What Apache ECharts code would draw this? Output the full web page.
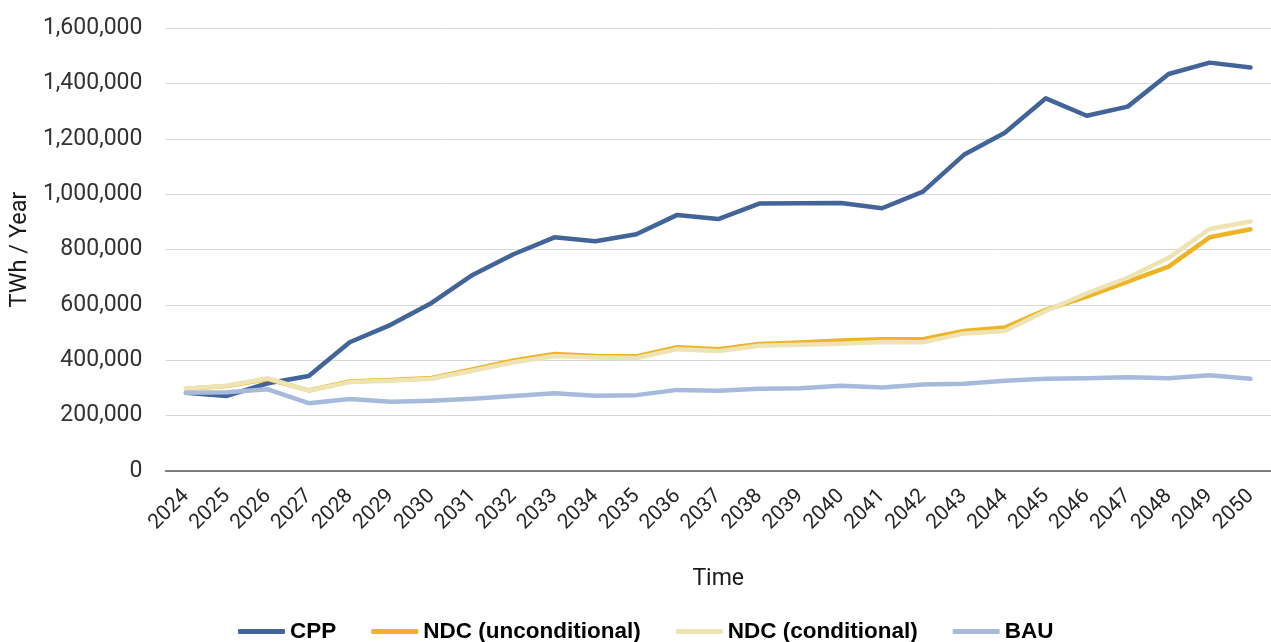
<!DOCTYPE html>
<html>
<head>
<meta charset="utf-8">
<script src="https://cdn.jsdelivr.net/npm/echarts@6/dist/echarts.min.js"></script>
<style>
  html, body { margin: 0; padding: 0; background: #fff; }
  #chart { width: 1271px; height: 642px; }
</style>
</head>
<body>
<div id="chart"></div>
<script>
// Annual electricity demand by scenario, TWh / year
const years = ['2024','2025','2026','2027','2028','2029','2030','2031','2032','2033','2034','2035','2036','2037',
  '2038','2039','2040','2041','2042','2043','2044','2045','2046','2047','2048','2049','2050'];

const cpp = [283000, 271000, 317000, 343000, 465000, 528000, 607000, 708000, 783000, 844000, 830000, 855000, 925000, 910000,
  966000, 967000, 968000, 949000, 1009000, 1142000, 1222000, 1346000, 1283000, 1316000, 1434000, 1475000, 1457000];

const ndcUnconditional = [297000, 307000, 332000, 291000, 323000, 329000, 336000, 367000, 399000, 423000, 415000, 414000, 447000, 440000,
  459000, 464000, 471000, 476000, 476000, 506000, 518000, 582000, 630000, 684000, 738000, 844000, 873000];

const ndcConditional = [297000, 308000, 335000, 290000, 321000, 326000, 333000, 362000, 393000, 415000, 410000, 408000, 440000, 433000,
  452000, 456000, 460000, 466000, 465000, 497000, 506000, 578000, 642000, 698000, 770000, 874000, 901000];

const bau = [283000, 284000, 295000, 245000, 260000, 250000, 254000, 261000, 271000, 281000, 272000, 274000, 293000, 290000,
  297000, 299000, 308000, 302000, 312000, 315000, 326000, 333000, 335000, 339000, 335000, 346000, 333000];

const yTicks = { min: 0, max: 1600000, interval: 200000 };

const chart = echarts.init(document.getElementById('chart'), null, { renderer: 'canvas' });

function line(name, data, color, width) {
  return {
    name: name,
    type: 'line',
    data: data,
    symbol: 'none',
    showSymbol: false,
    lineStyle: { color: color, width: width, cap: 'round', join: 'round' },
    itemStyle: { color: color },
    emphasis: { disabled: true }
  };
}

chart.setOption({
  animation: false,
  backgroundColor: '#ffffff',
  grid: { left: 164, top: 28, width: 1117, bottom: 171, containLabel: false },
  xAxis: {
    type: 'category',
    data: years,
    boundaryGap: true,
    name: 'Time',
    nameLocation: 'middle',
    nameGap: 97,
    nameTextStyle: { fontFamily: 'Roboto', fontSize: 23, color: '#1a1a1a' },
    axisLine: { lineStyle: { color: '#595959', width: 1.5 } },
    axisTick: { show: false },
    axisLabel: { rotate: 45, fontFamily: 'Roboto', fontSize: 21, color: '#262626', margin: 22, interval: 0 }
  },
  yAxis: {
    type: 'value',
    min: yTicks.min,
    max: yTicks.max,
    interval: yTicks.interval,
    name: 'TWh / Year',
    nameLocation: 'middle',
    nameGap: 130,
    nameTextStyle: { fontFamily: 'Roboto', fontSize: 23.5, color: '#1a1a1a' },
    axisLine: { show: false },
    axisTick: { show: false },
    splitLine: { lineStyle: { color: '#d9d9d9', width: 1 } },
    axisLabel: {
      fontFamily: 'Roboto', fontSize: 23, color: '#333333', margin: 23,
      formatter: v => v.toLocaleString('en-US')
    }
  },
  legend: {
    left: 238,
    top: 620,
    padding: 0,
    itemWidth: 47,
    itemHeight: 5,
    itemGap: 35,
    icon: 'roundRect',
    textStyle: { fontFamily: '"Liberation Sans", Arial, sans-serif', fontWeight: 'bold', fontSize: 22.5, color: '#000' },
    data: ['CPP', 'NDC (unconditional)', 'NDC (conditional)', 'BAU']
  },
  series: [
    line('CPP', cpp, '#436499', 4.5),
    line('NDC (unconditional)', ndcUnconditional, '#EFB328', 4.5),
    line('NDC (conditional)', ndcConditional, '#EDE3B3', 4.5),
    line('BAU', bau, '#A6BADB', 4.5)
  ]
});
</script>
</body>
</html>
